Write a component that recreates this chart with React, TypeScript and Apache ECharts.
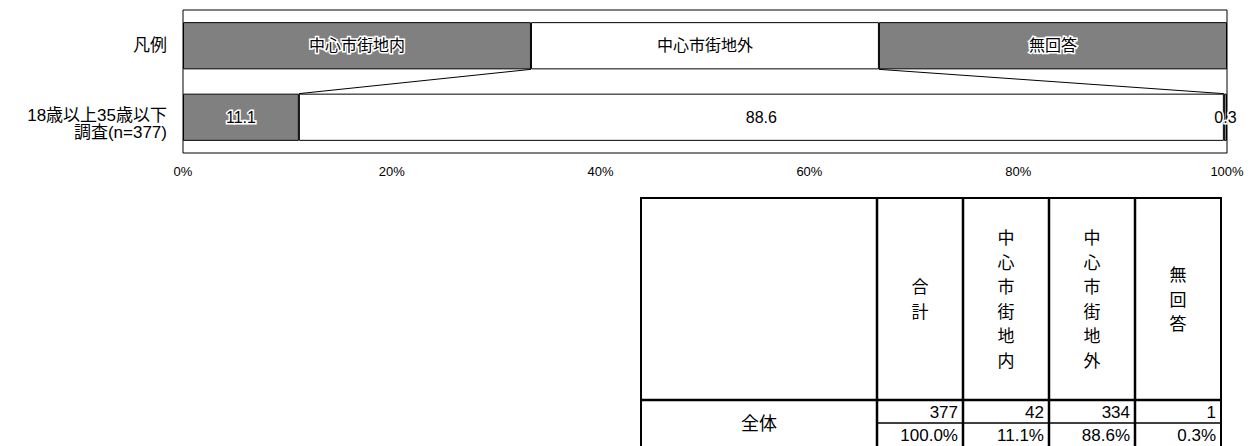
import React, { useEffect, useRef } from 'react';
import * as echarts from 'echarts';

const categories = ['凡例', '18歳以上35歳以下\n調査(n=377)'];
const seriesNames = ['中心市街地内', '中心市街地外', '無回答'];
const legendShares = [33.33, 33.33, 33.34];
const surveyValues = [11.1, 88.6, 0.3];
const xTicks = [0, 20, 40, 60, 80, 100];
const tableHeaders = ['合計', '中心市街地内', '中心市街地外', '無回答'];
const tableRowLabel = '全体';
const tableCounts = [377, 42, 334, 1];
const tablePercents = ['100.0%', '11.1%', '88.6%', '0.3%'];
const seriesColors = ['#808080', '#ffffff', '#808080'];

const FONT = "'Liberation Sans', 'Noto Sans CJK JP', sans-serif";

function cumulative(arr: number[]) {
  const out: number[] = [];
  let s = 0;
  for (const v of arr) {
    s += v;
    out.push(s);
  }
  return out;
}

function buildOption() {
  const legCum = cumulative(legendShares);
  const surCum = cumulative(surveyValues);
  const connectorData = [
    [legCum[0], 0, surCum[0]],
    [legCum[1], 0, surCum[1]],
  ];

  const barSeries = seriesNames.map((name, i) => ({
    name,
    type: 'bar',
    stack: 'total',
    barWidth: '66%',
    data: [legendShares[i], surveyValues[i]],
    itemStyle: { color: seriesColors[i], borderColor: '#000', borderWidth: 1 },
    label: {
      show: true,
      position: 'inside',
      color: '#000',
      fontSize: 16,
      fontFamily: FONT,
      textBorderColor: '#fff',
      textBorderWidth: 3,
      formatter: (p: any) => (p.dataIndex === 0 ? name : Number(p.value).toFixed(1)),
    },
    emphasis: { disabled: true },
  }));

  // table
  const colEdges = [641, 877, 963, 1049, 1135, 1221];
  const top = 198;
  const headBottom = 400;
  const split = 423;
  const bottom = 450;
  const graphics: any[] = [];
  graphics.push({
    type: 'rect',
    silent: true,
    shape: { x: colEdges[0], y: top, width: colEdges[5] - colEdges[0], height: bottom - top },
    style: { fill: '#fff', stroke: '#000', lineWidth: 2 },
  });
  for (let i = 1; i < colEdges.length - 1; i++) {
    graphics.push({
      type: 'line',
      silent: true,
      shape: { x1: colEdges[i], y1: top, x2: colEdges[i], y2: bottom },
      style: { stroke: '#000', lineWidth: 2.5 },
    });
  }
  graphics.push({
    type: 'line',
    silent: true,
    shape: { x1: colEdges[0], y1: headBottom, x2: colEdges[5], y2: headBottom },
    style: { stroke: '#000', lineWidth: 2.5 },
  });
  graphics.push({
    type: 'line',
    silent: true,
    shape: { x1: colEdges[1], y1: split, x2: colEdges[5], y2: split },
    style: { stroke: '#000', lineWidth: 1.5 },
  });
  tableHeaders.forEach((h, i) => {
    graphics.push({
      type: 'text',
      silent: true,
      x: (colEdges[i + 1] + colEdges[i + 2]) / 2,
      y: (top + headBottom) / 2 + 1,
      style: {
        text: h.split('').join('\n'),
        fontSize: 17,
        fontFamily: FONT,
        lineHeight: 24.5,
        fill: '#000',
        align: 'center',
        verticalAlign: 'middle',
      },
    });
  });
  graphics.push({
    type: 'text',
    silent: true,
    x: (colEdges[0] + colEdges[1]) / 2,
    y: (headBottom + bottom - 4) / 2 + 1,
    style: {
      text: tableRowLabel,
      fontSize: 18,
      fontFamily: FONT,
      fill: '#000',
      align: 'center',
      verticalAlign: 'middle',
    },
  });
  tableCounts.forEach((c, i) => {
    graphics.push({
      type: 'text',
      silent: true,
      x: colEdges[i + 2] - 5,
      y: (headBottom + split) / 2 + 1,
      style: {
        text: String(c),
        fontSize: 17,
        fontFamily: FONT,
        fill: '#000',
        align: 'right',
        verticalAlign: 'middle',
      },
    });
  });
  tablePercents.forEach((p, i) => {
    graphics.push({
      type: 'text',
      silent: true,
      x: colEdges[i + 2] - 5,
      y: split + 12,
      style: {
        text: p,
        fontSize: 17,
        fontFamily: FONT,
        fill: '#000',
        align: 'right',
        verticalAlign: 'middle',
      },
    });
  });

  return {
    animation: false,
    textStyle: { fontFamily: FONT },
    grid: {
      left: 183,
      top: 10,
      width: 1044,
      height: 143,
      show: true,
      borderColor: '#000',
      borderWidth: 1,
      backgroundColor: 'transparent',
    },
    xAxis: {
      type: 'value',
      min: xTicks[0],
      max: xTicks[xTicks.length - 1],
      interval: xTicks[1] - xTicks[0],
      axisLine: { show: false },
      axisTick: { show: false },
      splitLine: { show: false },
      axisLabel: {
        formatter: '{value}%',
        fontSize: 13,
        color: '#000',
        margin: 12,
        fontFamily: FONT,
      },
    },
    yAxis: {
      type: 'category',
      inverse: true,
      data: categories,
      axisLine: { show: false },
      axisTick: { show: false },
      splitLine: { show: false },
      axisLabel: {
        fontSize: 17,
        color: '#000',
        margin: 16,
        fontFamily: FONT,
        align: 'right',
        formatter: (v: string) => {
          const lines = v.split('\n');
          if (lines.length < 2) return `{b|${v}}`;
          return `{a|${lines[0]}}\n{b|${lines[1]}}`;
        },
        rich: {
          a: { fontSize: 17, lineHeight: 31, verticalAlign: 'bottom', fontFamily: FONT, color: '#000' },
          b: { fontSize: 17, lineHeight: 17, fontFamily: FONT, color: '#000' },
        },
      },
    },
    series: [
      ...barSeries,
      {
        type: 'custom',
        silent: true,
        encode: { x: 0, y: 1 },
        data: connectorData,
        renderItem: (params: any, api: any) => {
          const p1 = api.coord([api.value(0), 0]);
          const p2 = api.coord([api.value(2), 1]);
          const band = api.size([0, 1])[1];
          const half = (band * 0.66) / 2;
          return {
            type: 'line',
            shape: { x1: p1[0], y1: p1[1] + half, x2: p2[0], y2: p2[1] - half },
            style: { stroke: '#000', lineWidth: 1 },
          };
        },
        z: 3,
      },
    ],
    graphic: graphics,
  };
}

export default function App() {
  const ref = useRef<HTMLDivElement>(null);
  useEffect(() => {
    document.body.style.margin = '0';
    const chart = echarts.init(ref.current!, null, { renderer: 'svg' });
    chart.setOption(buildOption() as any);
    return () => chart.dispose();
  }, []);
  return <div ref={ref} style={{ width: 1259, height: 446 }} />;
}
